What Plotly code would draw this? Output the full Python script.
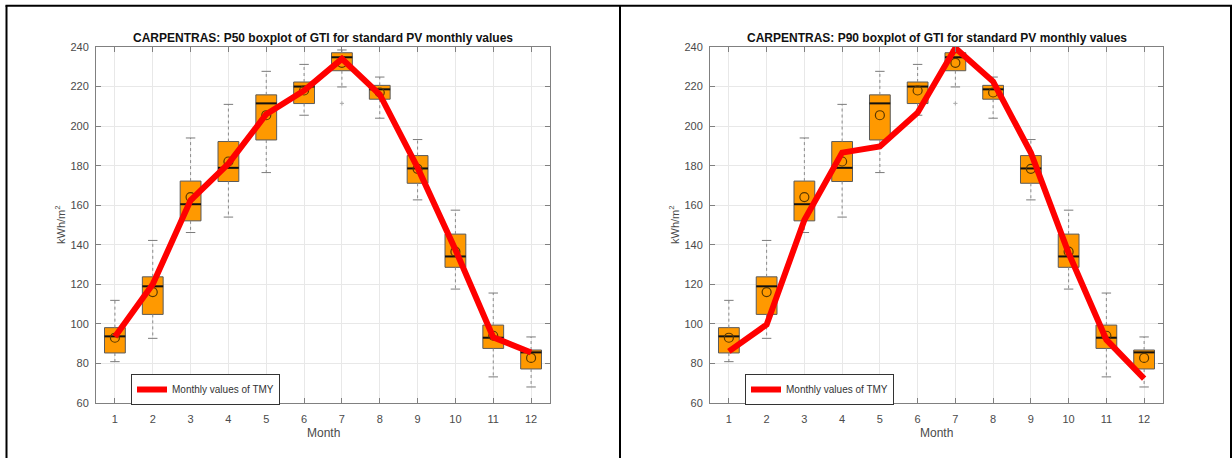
import plotly.graph_objects as go

W, H = 1232, 458

months = list(range(1, 13))
# Box statistics (same distribution shown in both panels), kWh/m2
whisk_hi = [111.9, 142.2, 194.0, 211.0, 227.7, 231.2, 238.5, 224.8, 193.2, 157.5, 115.6, 93.4]
q3       = [98.1, 123.8, 172.2, 192.2, 215.8, 222.3, 237.1, 220.6, 185.1, 145.4, 99.4, 86.8]
median   = [93.7, 119.0, 160.5, 178.9, 211.5, 220.0, 234.8, 218.6, 178.6, 134.1, 93.0, 85.6]
mean     = [93.0, 116.1, 164.1, 182.1, 205.5, 218.0, 232.0, 217.0, 178.4, 136.5, 94.0, 82.8]
q1       = [85.3, 104.8, 152.1, 172.0, 193.0, 211.4, 228.0, 213.6, 171.1, 128.6, 87.6, 77.2]
whisk_lo = [80.9, 92.7, 146.2, 154.0, 176.5, 205.5, 219.8, 204.0, 162.7, 117.6, 73.2, 68.1]
outlier_month = [7]
outlier_value = [211.5]

tmy_p50 = [93.5, 120.0, 162.5, 181.0, 206.0, 218.0, 234.0, 216.0, 179.0, 137.5, 93.2, 85.5]
tmy_p90 = [86.1, 99.6, 152.5, 186.6, 189.7, 206.8, 239.5, 222.5, 186.5, 135.8, 92.0, 72.3]

titles = ["CARPENTRAS: P50 boxplot of GTI for standard PV monthly values",
          "CARPENTRAS: P90 boxplot of GTI for standard PV monthly values"]
legend_label = "Monthly values of TMY"
x_title = "Month"
y_title = "kWh/m<sup>2</sup>"

BOX_W = 0.55
CAP_W = 0.25
FONT = "Liberation Sans, Arial, sans-serif"
ORANGE = "#FF9900"

fig = go.Figure()

# panel geometry in pixels
panels = [
    dict(x0=96, x1=550),
    dict(x0=710, x1=1163),
]
y_top, y_bot = 47, 403


def segs(xc, y, half):
    xs, ys = [], []
    for m, v in zip(xc, y):
        xs += [m - half, m + half, None]
        ys += [v, v, None]
    return xs, ys


def vsegs(xc, ya, yb):
    xs, ys = [], []
    for m, a, b in zip(xc, ya, yb):
        xs += [m, m, None]
        ys += [a, b, None]
    return xs, ys


for i, tmy in enumerate([tmy_p50, tmy_p90]):
    sfx = "" if i == 0 else "2"
    xa, ya = "x" + sfx, "y" + sfx
    # whiskers (dotted)
    wx, wy = vsegs(months, q3, whisk_hi)
    wx2, wy2 = vsegs(months, q1, whisk_lo)
    fig.add_trace(go.Scatter(x=wx + wx2, y=wy + wy2, mode="lines",
                             line=dict(color="#8a8a8a", width=1, dash="dot"),
                             showlegend=False, hoverinfo="skip", xaxis=xa, yaxis=ya))
    # caps
    cx, cy = segs(months, whisk_hi, CAP_W / 2)
    cx2, cy2 = segs(months, whisk_lo, CAP_W / 2)
    fig.add_trace(go.Scatter(x=cx + cx2, y=cy + cy2, mode="lines",
                             line=dict(color="#7a7a7a", width=1),
                             showlegend=False, hoverinfo="skip", xaxis=xa, yaxis=ya))
    # boxes
    fig.add_trace(go.Bar(x=months, y=[b - a for a, b in zip(q1, q3)], base=q1,
                         width=BOX_W, marker=dict(color=ORANGE, line=dict(color="#5a5a5a", width=1)),
                         showlegend=False, hoverinfo="skip", xaxis=xa, yaxis=ya))
    # medians
    mx, my = segs(months, median, BOX_W / 2)
    fig.add_trace(go.Scatter(x=mx, y=my, mode="lines", line=dict(color="#111111", width=2),
                             showlegend=False, hoverinfo="skip", xaxis=xa, yaxis=ya))
    # means
    fig.add_trace(go.Scatter(x=months, y=mean, mode="markers",
                             marker=dict(symbol="circle-open", size=9, color="#5a3800",
                                         line=dict(width=1.2, color="#5a3800")),
                             showlegend=False, hoverinfo="skip", xaxis=xa, yaxis=ya))
    # outliers
    fig.add_trace(go.Scatter(x=outlier_month, y=outlier_value, mode="markers",
                             marker=dict(symbol="cross-thin-open", size=3, color="#aaaaaa",
                                         line=dict(width=1, color="#aaaaaa")),
                             showlegend=False, hoverinfo="skip", xaxis=xa, yaxis=ya))
    # TMY line
    fig.add_trace(go.Scatter(x=months, y=tmy, mode="lines", name=legend_label,
                             line=dict(color="#FF0000", width=6),
                             showlegend=True, legend="legend" + sfx,
                             xaxis=xa, yaxis=ya))

axis_common = dict(showline=True, linecolor="#808080", linewidth=1, mirror="ticks",
                   ticks="inside", ticklen=5, tickcolor="#808080", showgrid=True,
                   gridcolor="#E8E8E8", gridwidth=1, zeroline=False, automargin=False,
                   tickfont=dict(family=FONT, size=11, color="#4a4a4a"), fixedrange=True)

layout = dict(width=W, height=H, autosize=False,
              margin=dict(l=0, r=0, t=0, b=0, pad=0, autoexpand=False),
              paper_bgcolor="white", plot_bgcolor="white", barmode="overlay",
              showlegend=True, font=dict(family=FONT))

annotations = []
shapes = []
for i, p in enumerate(panels):
    sfx = "" if i == 0 else "2"
    xd = [p["x0"] / W, p["x1"] / W]
    yd = [1 - y_bot / H, 1 - y_top / H]
    layout["xaxis" + sfx] = dict(axis_common, domain=xd, range=[0.5, 12.5], tickvals=months,
                                 anchor="y" + sfx, ticklabelstandoff=6)
    layout["yaxis" + sfx] = dict(axis_common, domain=yd, range=[60, 240], dtick=20,
                                 anchor="x" + sfx, ticklabelstandoff=4)
    cx = (p["x0"] + p["x1"]) / 2 / W
    annotations.append(dict(text="<b>" + titles[i] + "</b>", x=cx, y=1 - 38 / H, xref="paper",
                            yref="paper", showarrow=False, xanchor="center", yanchor="middle",
                            font=dict(family=FONT, size=12, color="#111111")))
    annotations.append(dict(text=x_title, x=cx, y=1 - 433 / H, xref="paper", yref="paper",
                            showarrow=False, xanchor="center", yanchor="middle",
                            font=dict(family=FONT, size=12, color="#4a4a4a")))
    annotations.append(dict(text=y_title, x=(p["x0"] - 36) / W, y=1 - 225 / H, xref="paper",
                            yref="paper", showarrow=False, textangle=-90, xanchor="center",
                            yanchor="middle", font=dict(family=FONT, size=11, color="#4a4a4a")))
    layout["legend" + sfx] = dict(x=(p["x0"] + 35) / W, y=1 - 389.5 / H, xanchor="left",
                                  yanchor="middle",
                                  bgcolor="white", bordercolor="#333333", borderwidth=1,
                                  font=dict(family=FONT, size=10, color="#333333"),
                                  itemwidth=30, tracegroupgap=0)

# panel frame lines
for xpx in [6.5, 620, 1231]:
    shapes.append(dict(type="line", xref="paper", yref="paper", x0=xpx / W, x1=xpx / W,
                       y0=0, y1=1 - 5.5 / H, line=dict(color="black", width=2)))
shapes.append(dict(type="line", xref="paper", yref="paper", x0=5.5 / W, x1=1,
                   y0=1 - 5.8 / H, y1=1 - 5.8 / H, line=dict(color="black", width=2)))

layout["annotations"] = annotations
layout["shapes"] = shapes
fig.update_layout(**layout)

post = ("document.documentElement.style.margin='0';document.documentElement.style.padding='0';"
        "document.documentElement.style.overflow='hidden';"
        "document.body.style.margin='0';document.body.style.padding='0';"
        "document.body.style.overflow='hidden';")

fig.write_html("out.html", config={"responsive": False, "displayModeBar": False},
               post_script=post)
